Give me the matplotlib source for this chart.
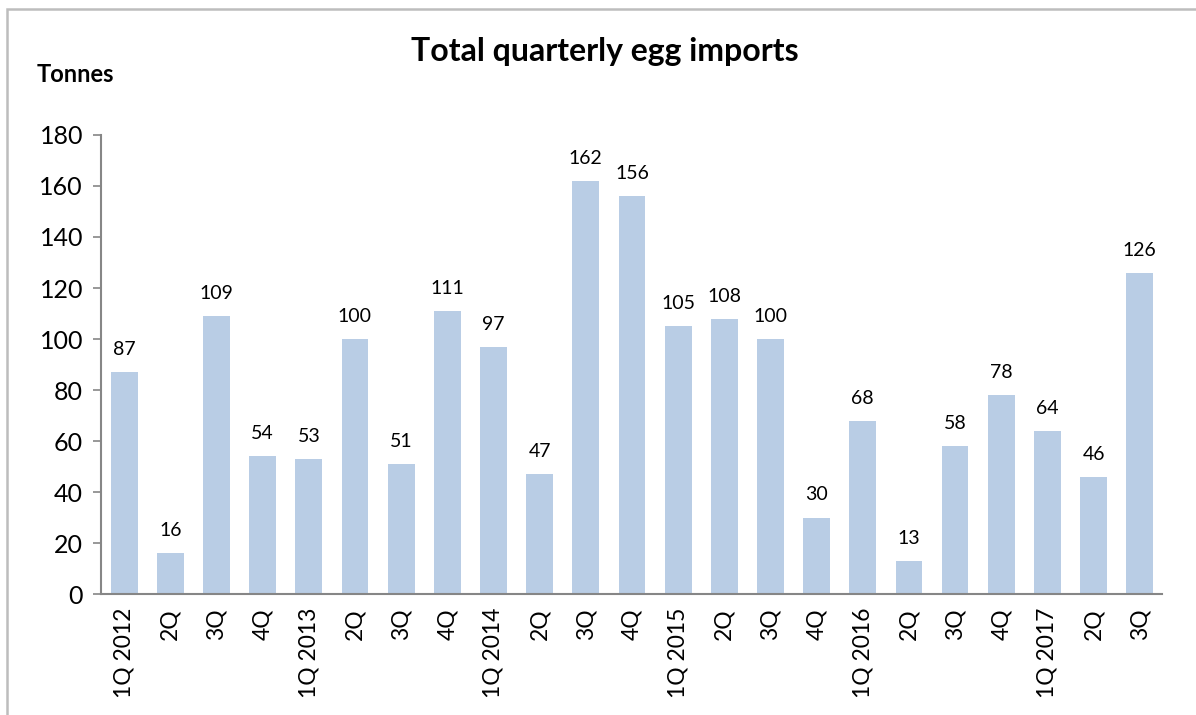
import matplotlib.pyplot as plt
from matplotlib.patches import Rectangle

plt.rcParams['font.family'] = ['Lato', 'DejaVu Sans']

quarters = ['1Q 2012', '2Q', '3Q', '4Q', '1Q 2013', '2Q', '3Q', '4Q',
            '1Q 2014', '2Q', '3Q', '4Q', '1Q 2015', '2Q', '3Q', '4Q',
            '1Q 2016', '2Q', '3Q', '4Q', '1Q 2017', '2Q', '3Q']
tonnes = [87, 16, 109, 54, 53, 100, 51, 111, 97, 47, 162, 156, 105, 108,
          100, 30, 68, 13, 58, 78, 64, 46, 126]
yticks = [0, 20, 40, 60, 80, 100, 120, 140, 160, 180]

fig = plt.figure(figsize=(11.96, 7.15), dpi=100)
ax = fig.add_axes([0.0845, 0.1692, 0.887, 0.642])

# outer chart frame (top and left edges visible)
fig.patches.append(Rectangle((7 / 1196, -0.1), 1.2, 1 - 9 / 715 + 0.1,
                             transform=fig.transFigure, fill=False,
                             edgecolor='#BDBDBD', linewidth=1.8))

x = range(len(tonnes))
ax.bar(x, tonnes, width=0.58, color='#B9CDE5')
for i, v in enumerate(tonnes):
    ax.text(i, v + 5.5, str(v), ha='center', va='bottom', fontsize=14)

ax.set_xlim(-0.5, len(tonnes) - 0.52)
ax.set_ylim(0, 180)
ax.set_yticks(yticks)
ax.set_xticks(list(x))
ax.set_xticklabels(quarters, rotation=90, fontsize=16.5)
ax.tick_params(axis='x', length=0, pad=10)
ax.tick_params(axis='y', length=6, width=1.2, color='#868686',
               labelsize=18, pad=7)
for s in ['top', 'right']:
    ax.spines[s].set_visible(False)
for s in ['left', 'bottom']:
    ax.spines[s].set_color('#868686')
    ax.spines[s].set_linewidth(1.5)

fig.text(605 / 1196, 1 - 52 / 715, 'Total quarterly egg imports',
         ha='center', va='center', fontsize=23, fontweight='bold')
fig.text(37 / 1196, 1 - 75 / 715, 'Tonnes', ha='left', va='center',
         fontsize=17, fontweight='bold')

fig.savefig('out.png', dpi=100)
